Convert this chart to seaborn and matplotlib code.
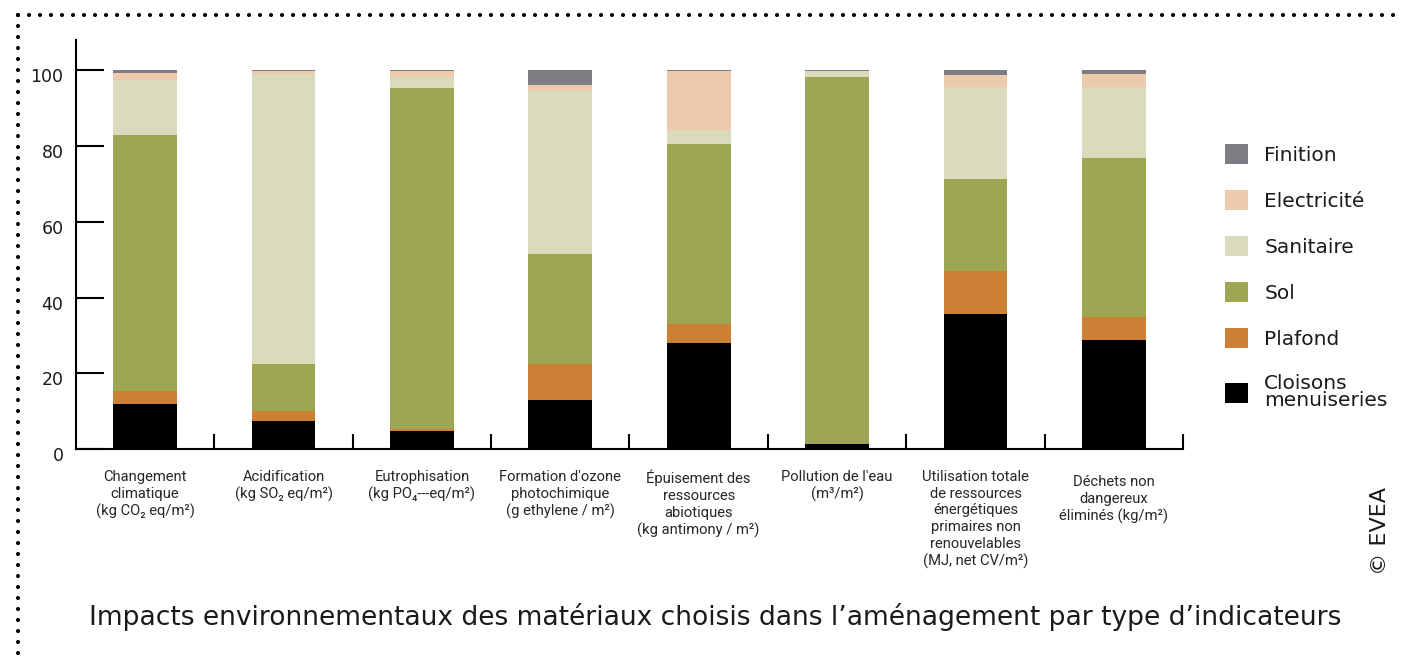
import matplotlib.pyplot as plt
import seaborn as sns
from matplotlib.lines import Line2D
from matplotlib.patches import Patch
from matplotlib.transforms import ScaledTranslation

# Indicateurs (axe x)
indicateurs = [
    "Changement\nclimatique\n(kg CO₂ eq/m²)",
    "Acidification\n(kg SO₂ eq/m²)",
    "Eutrophisation\n(kg PO₄---eq/m²)",
    "Formation d'ozone\nphotochimique\n(g ethylene / m²)",
    "Épuisement des\nressources\nabiotiques\n(kg antimony / m²)",
    "Pollution de l'eau\n(m³/m²)",
    "Utilisation totale\nde ressources\nénergétiques\nprimaires non\nrenouvelables\n(MJ, net CV/m²)",
    "Déchets non\ndangereux\néliminés (kg/m²)",
]

# Parts (%) par poste, du bas vers le haut de la pile
cloisons = [12.0, 7.5, 4.7, 13.0, 28.1, 1.4, 35.7, 28.9]
plafond = [3.4, 2.6, 0.7, 9.5, 5.0, 0.0, 11.2, 6.0]
sol = [67.6, 12.4, 89.8, 29.1, 47.5, 96.9, 24.5, 42.0]
sanitaire = [14.4, 76.4, 3.0, 42.9, 3.7, 1.4, 24.1, 18.8]
electricite = [2.0, 1.0, 1.5, 1.5, 15.6, 0.0, 3.2, 3.2]
finition = [0.6, 0.1, 0.3, 4.0, 0.1, 0.3, 1.3, 1.1]

postes = ['Cloisons\nmenuiseries', 'Plafond', 'Sol', 'Sanitaire', 'Electricité', 'Finition']
series = [cloisons, plafond, sol, sanitaire, electricite, finition]
couleurs = ['#000000', '#cc8035', '#9fa653', '#d9dbbc', '#ebcbac', '#7f7b82']

titre = "Impacts environnementaux des matériaux choisis dans l’aménagement par type d’indicateurs"

sns.set_style('white')
plt.rcParams['font.family'] = ['DejaVu Sans']
plt.rcParams['text.color'] = '#1a1a1a'

fig = plt.figure(figsize=(14.04, 6.58), dpi=100)
ax = fig.add_axes([0.0541, 0.3176, 0.7885, 0.6216])

# Barres empilées
bas = [0.0] * len(indicateurs)
for nom, valeurs, couleur in zip(postes, series, couleurs):
    sns.barplot(x=indicateurs, y=valeurs, bottom=bas, color=couleur, saturation=1,
                width=0.46, errorbar=None, linewidth=0, ax=ax)
    bas = [b + v for b, v in zip(bas, valeurs)]

ax.set_xlim(-0.5, 7.5)
ax.set_ylim(0, 108)
ax.set_yticks([0, 20, 40, 60, 80, 100])
ax.tick_params(axis='y', left=True, direction='in', length=20, width=1.5, pad=9,
               labelsize=12.5, labelcolor='#1a1a1a', color='black')
for lbl in ax.get_yticklabels():
    lbl.set_transform(lbl.get_transform() + ScaledTranslation(0, -0.05, fig.dpi_scale_trans))

ax.set_xticks(range(len(indicateurs)))
ax.set_xticklabels(indicateurs, fontsize=10.6, family=['Roboto', 'DejaVu Sans'],
                   linespacing=1.25, va='top')
ax.tick_params(axis='x', which='major', bottom=False, length=0, pad=15)
ax.set_xticks([i + 0.5 for i in range(len(indicateurs))], minor=True)
ax.tick_params(axis='x', which='minor', bottom=True, direction='in', length=11,
               width=1.5, color='black')
# la dernière étiquette est un peu plus basse
ax.get_xticklabels()[-1].set_transform(
    ax.get_xticklabels()[-1].get_transform() + ScaledTranslation(0, -0.05, fig.dpi_scale_trans))

ax.spines['top'].set_visible(False)
ax.spines['right'].set_visible(False)
ax.spines['left'].set_linewidth(1.5)
ax.spines['bottom'].set_linewidth(1.5)
ax.spines['left'].set_color('black')
ax.spines['bottom'].set_color('black')
ax.set_xlabel('')
ax.set_ylabel('')

# Légende
poignees = [Patch(facecolor=c, edgecolor='none', label=n) for n, c in zip(postes, couleurs)][::-1]
leg = fig.legend(handles=poignees, loc='upper left', bbox_to_anchor=(0.8725, 0.781),
                 frameon=False, fontsize=14.5, handlelength=1.15, handleheight=1.15,
                 handletextpad=0.8, labelspacing=1.25, borderpad=0, borderaxespad=0)
for t in leg.get_texts():
    t.set_linespacing(0.85)

# Titre et crédit
fig.text(715 / 1404, 1 - 617 / 658, titre, fontsize=19.1, ha='center', va='center')
fig.text(1380 / 1404, 1 - 531 / 658, '© EVEA', fontsize=16, rotation=90,
         ha='center', va='center')

# Cadre pointillé
pointilles = dict(transform=fig.transFigure, color='black', lw=3.0,
                  linestyle=(0, (0.01, 2.63)), dash_capstyle='round')
fig.add_artist(Line2D([18 / 1404, 1.0], [1 - 15 / 658] * 2, **pointilles))
fig.add_artist(Line2D([18 / 1404] * 2, [1 - 15 / 658, 0.0], **pointilles))

fig.savefig('out.png', dpi=100)
